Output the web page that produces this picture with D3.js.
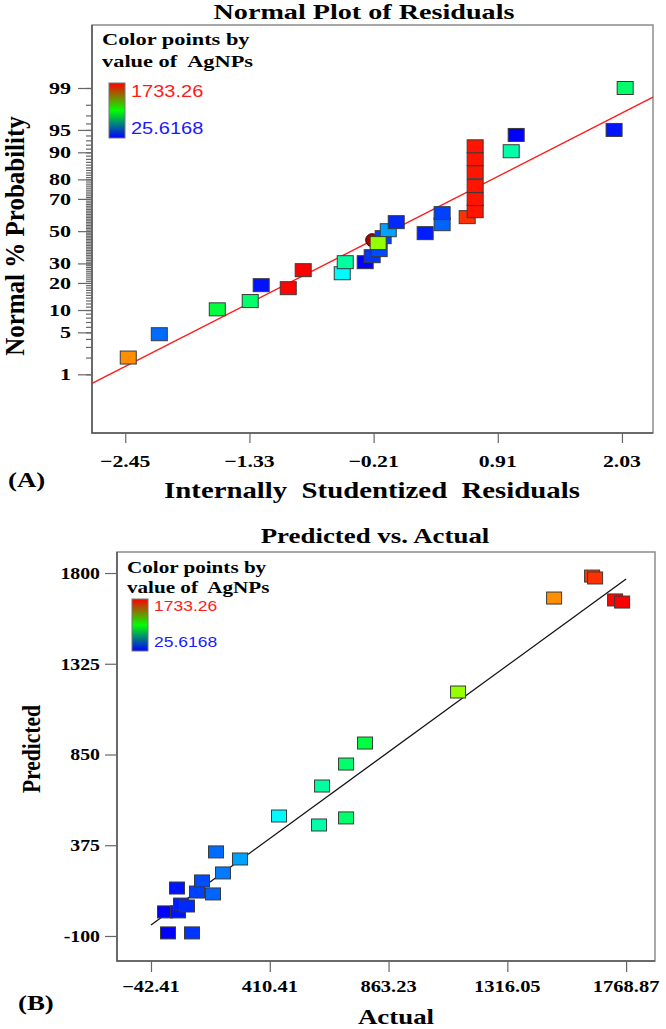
<!DOCTYPE html>
<html>
<head>
<meta charset="utf-8">
<script src="https://cdn.jsdelivr.net/npm/d3@7"></script>
<style>
  html, body { margin: 0; padding: 0; background: #fff; }
  text { white-space: pre; }
</style>
</head>
<body>
<svg id="chart" width="666" height="1029"></svg>
<script>
// ---- data, panel A (normal plot of residuals) ----
var residA = [-2.423, -2.143, -1.620, -1.323, -1.224, -0.980, -0.845, -0.493, -0.466, -0.286,
              -0.223, -0.160, -0.124, -0.078, -0.006, -0.169, 0.255, 0.408, 0.408, 0.634,
              0.706, 0.706, 0.706, 0.706, 0.706, 0.706, 1.031, 1.076, 1.959, 2.059];
var probA  = [2.0, 4.7, 10.2, 12.8, 19.0, 17.7, 26.3, 24.7, 30.7, 30.7,
              34.2, 37.9, 46.1, 50.6, 55.8, 42.3, 48.7, 54.5, 61.5, 59.0,
              62.7, 69.9, 76.8, 83.1, 87.9, 91.6, 90.3, 94.1, 95.0, 99.0];
var agA    = [1494, 205.5, 773.6, 701, 56.7, 1727, 1753, 445.7, 609.7, 11,
              114, 152, 133, 297, 94.9, 1128, 72, 194, 133, 1650,
              1700, 1700, 1700, 1700, 1700, 1700, 598.2, 22.4, 60.6, 701];
var flagA = { resid: -0.223, prob: 44.2 };          // the highlighted (circle) run
var fitA = { mean: -0.058, sd: 1.088 };             // red reference line
var xTicksA = [-2.45, -1.33, -0.21, 0.91, 2.03];
var probTicks = [1, 5, 10, 20, 30, 50, 70, 80, 90, 95, 99];

// ---- data, panel B (predicted vs actual) ----
var actualB = [11.0, 22.4, 114.0, 60.6, 72.0, 94.9, 56.7, 133.0, 194.0, 152.1,
               232.1, 205.5, 297.0, 445.7, 598.2, 609.7, 701.2, 701.2, 773.6, 1128.2,
               1494.3, 1639.2, 1650.6, 1726.9, 1753.6];
var predB   = [26, -84, -84, 26, 67, 57, 151, 130, 120, 188,
               230, 340, 303, 528, 481, 685, 800, 518, 910, 1177,
               1669, 1784, 1774, 1659, 1648];
var fitB = [-42.41, 1768.87];
var xTicksB = [-42.41, 410.41, 863.23, 1316.05, 1768.87];
var yTicksB = [-100, 375, 850, 1325, 1800];
var agRange = [25.6168, 1733.26];

var SERIF = '"Liberation Serif", "Times New Roman", serif';
var SANS = '"Liberation Sans", Arial, sans-serif';
var SX = 1.28;   // the original picture is stretched sideways

// inverse normal cdf (Acklam)
function probit(p) {
  var a = [-3.969683028665376e+01, 2.209460984245205e+02, -2.759285104469687e+02, 1.383577518672690e+02, -3.066479806614716e+01, 2.506628277459239e+00];
  var b = [-5.447609879822406e+01, 1.615858368580409e+02, -1.556989798598866e+02, 6.680131188771972e+01, -1.328068155288572e+01];
  var c = [-7.784894002430293e-03, -3.223964580411365e-01, -2.400758277161838e+00, -2.549671010229583e+00, 4.374664141464968e+00, 2.938163982698783e+00];
  var d = [7.784695709041462e-03, 3.224671290700398e-01, 2.445134137142996e+00, 3.754408661907416e+00];
  var q, r;
  if (p < 0.02425) {
    q = Math.sqrt(-2 * Math.log(p));
    return (((((c[0]*q+c[1])*q+c[2])*q+c[3])*q+c[4])*q+c[5]) / ((((d[0]*q+d[1])*q+d[2])*q+d[3])*q+1);
  }
  if (p > 1 - 0.02425) {
    q = Math.sqrt(-2 * Math.log(1 - p));
    return -(((((c[0]*q+c[1])*q+c[2])*q+c[3])*q+c[4])*q+c[5]) / ((((d[0]*q+d[1])*q+d[2])*q+d[3])*q+1);
  }
  q = p - 0.5; r = q * q;
  return (((((a[0]*r+a[1])*r+a[2])*r+a[3])*r+a[4])*r+a[5])*q / (((((b[0]*r+b[1])*r+b[2])*r+b[3])*r+b[4])*r+1);
}

// rainbow colouring by AgNPs value
var hueScale = d3.scaleLinear().domain(agRange).range([240, 0]).clamp(true);
function agColor(v) { return d3.hsl(hueScale(v), 1, 0.5).toString(); }

var svg = d3.select('#chart');

function label(sel, x, y, s, o) {
  return sel.append('text')
    .attr('transform', 'translate(' + x + ',' + y + ') scale(' + (o.sx || SX) + ',1)')
    .attr('text-anchor', o.anchor || 'start')
    .style('font-family', o.fam || SERIF)
    .style('font-weight', o.weight || 'bold')
    .style('font-size', o.size + 'px')
    .attr('fill', o.fill || '#000')
    .text(s);
}
function vlabel(sel, x, y, s, size, sy) {
  return sel.append('text')
    .attr('transform', 'translate(' + x + ',' + y + ') rotate(-90) scale(1,' + sy + ')')
    .attr('text-anchor', 'middle')
    .style('font-family', SERIF).style('font-weight', 'bold').style('font-size', size + 'px')
    .text(s);
}

function frame(box) {
  svg.append('rect')
    .attr('x', box.left).attr('y', box.top)
    .attr('width', box.right - box.left).attr('height', box.bottom - box.top)
    .attr('fill', 'none').attr('stroke', '#8c8c8c').attr('stroke-width', 1.5);
  svg.append('path')
    .attr('d', 'M' + box.left + ',' + box.top + 'V' + box.bottom + 'H' + box.right)
    .attr('fill', 'none').attr('stroke', '#555').attr('stroke-width', 1.5);
}

function styleAxis(g) {
  g.select('.domain').remove();
  g.selectAll('line').attr('stroke', '#666').attr('stroke-width', 1.2);
}

function legend(x, y1, y2, barX, barY, barH, size, numSize) {
  label(svg, x, y1, 'Color points by', { size: size });
  label(svg, x, y2, 'value of  AgNPs', { size: size });
  svg.append('rect').attr('x', barX).attr('y', barY).attr('width', 16).attr('height', barH)
    .attr('fill', 'url(#agGrad)').attr('stroke', '#777').attr('stroke-width', 1);
  label(svg, barX + 22, barY + numSize * 0.85, d3.format('.2f')(agRange[1]),
        { size: numSize, fam: SANS, weight: 'normal', fill: '#ff1a1a', sx: 1.25 });
  label(svg, barX + 22, barY + barH - 4, String(agRange[0]),
        { size: numSize, fam: SANS, weight: 'normal', fill: '#1a1aff', sx: 1.25 });
}

var grad = svg.append('defs').append('linearGradient').attr('id', 'agGrad')
  .attr('x1', 0).attr('y1', 0).attr('x2', 0).attr('y2', 1);
grad.append('stop').attr('offset', '0%').attr('stop-color', '#ff0000');
grad.append('stop').attr('offset', '50%').attr('stop-color', '#00ff00');
grad.append('stop').attr('offset', '100%').attr('stop-color', '#0000ff');

// ================= Panel A =================
var boxA = { left: 92, right: 653, top: 25, bottom: 433 };
var xA = d3.scaleLinear().domain([-2.75, 2.31]).range([boxA.left, boxA.right]);
var zA = d3.scaleLinear().domain([-3.28, 3.35]).range([boxA.bottom, boxA.top]);
function yA(p) { return zA(probit(p / 100)); }

frame(boxA);

var minorA = d3.range(1, 100);
svg.append('g').attr('transform', 'translate(' + boxA.left + ',0)')
  .call(d3.axisLeft(zA).tickValues(minorA.map(function(p) { return probit(p / 100); }))
        .tickSize(6).tickFormat(''))
  .call(styleAxis);
svg.append('g').attr('transform', 'translate(' + boxA.left + ',0)')
  .call(d3.axisLeft(zA).tickValues(probTicks.map(function(p) { return probit(p / 100); }))
        .tickSize(14).tickFormat(''))
  .call(styleAxis);
probTicks.forEach(function(p) {
  label(svg, 71, yA(p) + 6, String(p), { size: 17, anchor: 'end', sx: 1.3 });
});

svg.append('g').attr('transform', 'translate(0,' + boxA.bottom + ')')
  .call(d3.axisBottom(xA).tickValues(xTicksA).tickSize(10).tickFormat(''))
  .call(styleAxis);
xTicksA.forEach(function(t) {
  label(svg, xA(t), 467, d3.format('.2f')(t), { size: 17, anchor: 'middle' });
});

// reference line
var lineA = d3.line()
  .x(function(r) { return xA(r); })
  .y(function(r) { return zA((r - fitA.mean) / fitA.sd); });
svg.append('path').datum(xA.domain())
  .attr('d', lineA).attr('stroke', '#ff1a1a').attr('stroke-width', 1.4).attr('fill', 'none');

var gA = svg.append('g');
var ptsA = residA.map(function(r, i) { return { r: r, p: probA[i], ag: agA[i] }; });
// highlighted run drawn first, the square points then sit over it
gA.append('circle')
  .attr('cx', xA(flagA.resid)).attr('cy', yA(flagA.prob)).attr('r', 6.5)
  .attr('fill', '#b00000').attr('stroke', '#300').attr('stroke-width', 1);
gA.selectAll('rect.pt').data(ptsA).enter().append('rect')
  .attr('class', 'pt')
  .attr('x', function(d) { return xA(d.r) - 8; })
  .attr('y', function(d) { return yA(d.p) - 6.5; })
  .attr('width', 16).attr('height', 13)
  .attr('fill', function(d) { return agColor(d.ag); })
  .attr('stroke', '#3a3a3a').attr('stroke-width', 1);

legend(102, 45, 67, 109, 83, 55, 17.5, 16);

label(svg, 364, 19, 'Normal Plot of Residuals', { size: 22, anchor: 'middle' });
label(svg, 372, 498, 'Internally  Studentized  Residuals', { size: 22.5, anchor: 'middle' });
vlabel(svg, 24, 236, 'Normal % Probability', 25, 1.08);
label(svg, 8, 487, '(A)', { size: 21 });

// ================= Panel B =================
var boxB = { left: 117, right: 655, top: 552, bottom: 961 };
var xB = d3.scaleLinear().domain([-172, 1879]).range([boxB.left, boxB.right]);
var yB = d3.scaleLinear().domain([-231, 1910]).range([boxB.bottom, boxB.top]);

frame(boxB);

svg.append('g').attr('transform', 'translate(' + boxB.left + ',0)')
  .call(d3.axisLeft(yB).tickValues(yTicksB).tickSize(12).tickFormat(''))
  .call(styleAxis);
yTicksB.forEach(function(t) {
  label(svg, 100, yB(t) + 6, String(t), { size: 16.5, anchor: 'end', sx: 1.2 });
});
svg.append('g').attr('transform', 'translate(0,' + boxB.bottom + ')')
  .call(d3.axisBottom(xB).tickValues(xTicksB).tickSize(11).tickFormat(''))
  .call(styleAxis);
xTicksB.forEach(function(t) {
  label(svg, xB(t), 992, d3.format('.2f')(t), { size: 16, anchor: 'middle' });
});

svg.append('line')
  .attr('x1', xB(fitB[0])).attr('y1', yB(fitB[0]))
  .attr('x2', xB(fitB[1])).attr('y2', yB(fitB[1]))
  .attr('stroke', '#111').attr('stroke-width', 1.3);

var ptsB = actualB.map(function(a, i) { return { a: a, p: predB[i] }; });
svg.append('g').selectAll('rect').data(ptsB).enter().append('rect')
  .attr('x', function(d) { return xB(d.a) - 7.5; })
  .attr('y', function(d) { return yB(d.p) - 6; })
  .attr('width', 15).attr('height', 12)
  .attr('fill', function(d) { return agColor(d.a); })
  .attr('stroke', '#3a3a3a').attr('stroke-width', 1);

legend(127, 573, 593, 132, 599, 52, 16.5, 14);

label(svg, 375, 543, 'Predicted vs. Actual', { size: 21, anchor: 'middle' });
label(svg, 396, 1024, 'Actual', { size: 21, anchor: 'middle' });
vlabel(svg, 40, 749, 'Predicted', 21.5, 1.2);
label(svg, 18, 1010, '(B)', { size: 21 });
</script>
</body>
</html>
